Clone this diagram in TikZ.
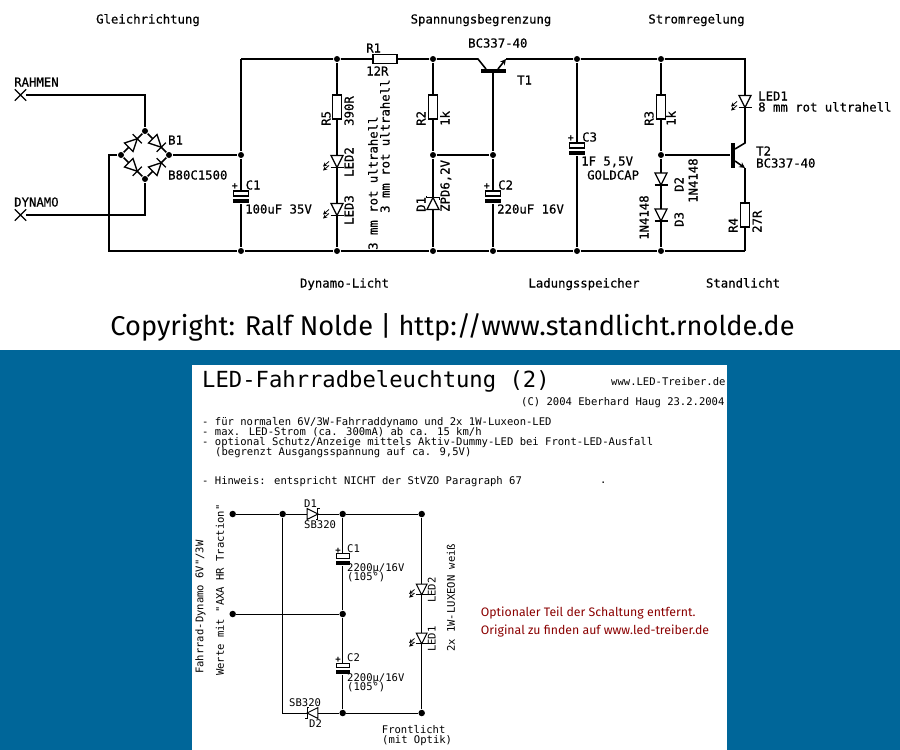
\documentclass[tikz,border=0pt]{standalone}
\usepackage{fontspec}
\usetikzlibrary{shapes.misc}
\newfontfamily\schemfont{DejaVu Sans Mono}
\newfontfamily\heavyfont[FakeBold=0.6]{DejaVu Sans Mono}
\newfontfamily\signfont{Fira Sans}
\definecolor{panelblue}{HTML}{006699}
\definecolor{notered}{HTML}{8B0000}
\tikzset{
	junc/.style={circle,fill=black,inner sep=0pt,minimum size=#1},
	junc/.default=6,
	xpin/.style={cross out,draw,inner sep=0pt,minimum size=10,line width=1.3pt},
	rbox/.style={draw,fill=white,inner sep=0pt,minimum width=9,minimum height=24,line width=1.3pt},
	rboxh/.style={rbox,minimum width=24,minimum height=9},
	capplate/.style={draw,fill=white,inner sep=0pt,minimum width=15,minimum height=5,line width=1.2pt},
	capbar/.style={fill=black,inner sep=0pt,minimum width=16,minimum height=4.5},
	tbar/.style={fill=black,inner sep=0pt,minimum width=25,minimum height=4},
	txt/.style={inner sep=0pt,anchor=west,text height=9pt,text depth=0pt,font=\heavyfont\fontsize{12.3}{12.3}\selectfont},
	vtxt/.style={txt,rotate=90},
	head/.style={txt,anchor=center,font=\heavyfont\fontsize{12.3}{12.3}\selectfont},
	small/.style={inner sep=0pt,anchor=west,text height=7.7pt,text depth=0pt,font=\schemfont\fontsize{10.55}{10.55}\selectfont},
	vsmall/.style={small,rotate=90},
	plus/.style={inner sep=0pt,anchor=center,font=\schemfont\bfseries\fontsize{#1}{#1}\selectfont},
	note/.style={inner sep=0pt,anchor=west,text height=8.3pt,text depth=0pt,text=notered,font=\signfont\fontsize{12.3}{12.3}\selectfont},
	diodesym/.pic={
		\draw[fill=white] (-6,-6) -- (6,-6) -- (0,6) -- cycle;
		\draw (-6.5,6) -- (6.5,6);
	},
	zenersym/.pic={
		\draw[fill=white] (-6,-6) -- (6,-6) -- (0,6) -- cycle;
		\draw (-6.5,4) -- (-6.5,6) -- (6.5,6) -- (6.5,8);
	},
	ledsym/.pic={
		\draw[fill=white] (-6,-6) -- (6,-6) -- (0,6) -- cycle;
		\draw (-6.5,6) -- (6.5,6);
		\draw[->,>=stealth,line width=.8pt] (-8,0) -- (-14,5);
		\draw[->,>=stealth,line width=.8pt] (-8,4) -- (-14,9);
	},
}

\begin{document}
\begin{tikzpicture}[x=1pt,y=-1pt]
	\useasboundingbox (0,0) rectangle (900,750);
	\fill[panelblue] (0,350) rectangle (900,750);
	\fill[white] (192,365) rectangle (727,750);

	% upper circuit
	\begin{scope}[line width=1.6pt]
		\foreach \n/\x/\y in {bt/145/131,br/169/155,bl/121/155,bb/145/179,
			a1/241/155,a2/241/251,b1/337/59,b2/337/251,c1/433/59,c2/433/155,c3/433/251,
			d2/493/155,d3/493/251,e1/577/59,e3/577/251,f1/661/59,f2/661/155,f3/661/251}
			\node[junc] (\n) at (\x,\y) {};
		\node[xpin] (rahmen) at (20.5,95) {};
		\node[xpin] (dynamo) at (20.5,215) {};
		\coordinate (topL) at (241,59);
		\coordinate (topR) at (745,59);
		\coordinate (botL) at (109,251);
		\coordinate (botR) at (745,251);
		\coordinate (t1c) at (478,59);
		\coordinate (t1cb) at (486,69);
		\coordinate (t1e) at (506,59);
		\coordinate (t1eb) at (498,69);
		\coordinate (t2c) at (745,143);
		\coordinate (t2cb) at (735,149);
		\coordinate (t2e) at (745,168);
		\coordinate (t2eb) at (735,161);

		\node[rboxh] (R1) at (385,59) {};
		\node[rbox] (R5) at (337,107) {};
		\node[rbox] (R2) at (433,107) {};
		\node[rbox] (R3) at (661,107) {};
		\node[rbox] (R4) at (745,215) {};
		\node[capplate] (C1p) at (241,193.5) {};
		\node[capbar] (C1b) at (241,201) {};
		\node[capplate] (C2p) at (493,193.5) {};
		\node[capbar] (C2b) at (493,201) {};
		\node[capplate] (C3p) at (577,145.5) {};
		\node[capbar] (C3b) at (577,153) {};
		\node[tbar] (T1b) at (493,70.5) {};
		\node[tbar,minimum width=4,minimum height=25] (T2b) at (733,155) {};

		\draw (rahmen) -| (bt);
		\draw (dynamo) -| (bb);
		\draw (bl) -| (botL) -- (a2) -- (b2) -- (c3) -- (d3) -- (e3) -- (f3) -- (botR);
		\draw (bt) -- (br) -- (bb) -- (bl) -- (bt);
		\draw (br) -- (a1);
		\draw (topL) -- (b1) -- (R1) -- (c1) -- (t1c) -- (t1cb);
		\draw[-stealth] (t1eb) -- (t1e);
		\draw (t1e) -- (e1) -- (f1) -- (topR) -- (t2c) -- (t2cb);
		\draw[-stealth] (t2eb) -- (t2e);
		\draw (t2e) -- (R4) -- (botR);
		\draw (topL) -- (a1) -- (C1p);
		\draw (C1b) -- (a2);
		\draw (b1) -- (R5) -- (b2);
		\draw (c1) -- (R2) -- (c2) -- (c3);
		\draw (c2) -- (d2);
		\draw (T1b) -- (d2) -- (C2p);
		\draw (C2b) -- (d3);
		\draw (e1) -- (C3p);
		\draw (C3b) -- (e3);
		\draw (f1) -- (R3) -- (f2) -- (f3);
		\draw (f2) -- (T2b);

		\begin{scope}[line width=1.3pt]
			\pic[rotate=135] at (133,143) {diodesym};
			\pic[rotate=45] at (157,143) {diodesym};
			\pic[rotate=45] at (133,167) {diodesym};
			\pic[rotate=135] at (157,167) {diodesym};
			\pic at (337,161.5) {ledsym};
			\pic at (337,209.5) {ledsym};
			\pic at (745,101.5) {ledsym};
			\pic[rotate=180] at (433,203.5) {zenersym};
			\pic at (661,179) {diodesym};
			\pic at (661,215) {diodesym};
		\end{scope}
	\end{scope}

	\node[head] (hGleich) at (148,19) {Gleichrichtung};
	\node[head] (hSpann) at (481,19) {Spannungsbegrenzung};
	\node[head] (hStrom) at (696.5,19) {Stromregelung};
	\node[head] (hDyn) at (344.5,283) {Dynamo-Licht};
	\node[head] (hLad) at (584,283) {Ladungsspeicher};
	\node[head] (hStand) at (743,283) {Standlicht};

	\node[txt] (tRahmen) at (14,82) {RAHMEN};
	\node[txt] (tDynamo) at (14,202) {DYNAMO};
	\node[txt] (tB1) at (168,140) {B1};
	\node[txt] (tBtype) at (168,175) {B80C1500};
	\node[txt] (tC1) at (245.5,185) {C1};
	\node[txt] (tC1v) at (245,209) {100uF 35V};
	\node[txt] (tR1) at (366,48) {R1};
	\node[txt] (tR1v) at (366,71) {12R};
	\node[vtxt] (tR5) at (326,126) {R5};
	\node[vtxt] (tR5v) at (349,126) {390R};
	\node[vtxt] (tL2) at (349,177) {LED2};
	\node[vtxt] (tL3) at (349,225) {LED3};
	\node[vtxt] (tL2d) at (373,250) {3 mm rot ultrahell};
	\node[vtxt] (tL3d) at (385,213) {3 mm rot ultrahell};
	\node[vtxt] (tR2) at (421,126) {R2};
	\node[vtxt] (tR2v) at (445,126) {1k};
	\node[vtxt] (tD1) at (421,212) {D1};
	\node[vtxt] (tD1v) at (445,212) {ZPD6,2V};
	\node[txt] (tT1t) at (468,43) {BC337-40};
	\node[txt] (tT1) at (517,80) {T1};
	\node[txt] (tC2) at (498,185) {C2};
	\node[txt] (tC2v) at (497,209) {220uF 16V};
	\node[txt] (tC3) at (582,137) {C3};
	\node[txt] (tC3v) at (581,161) {1F 5,5V};
	\node[txt] (tC3g) at (587,175) {GOLDCAP};
	\node[vtxt] (tR3) at (649,126) {R3};
	\node[vtxt] (tR3v) at (671,126) {1k};
	\node[vtxt] (tD2) at (679,192) {D2};
	\node[vtxt] (tD2v) at (693,203) {1N4148};
	\node[vtxt] (tD3) at (679,227) {D3};
	\node[vtxt] (tD3v) at (644,240) {1N4148};
	\node[vtxt] (tR4) at (733,233) {R4};
	\node[vtxt] (tR4v) at (757,233) {27R};
	\node[txt] (tL1) at (758,96) {LED1};
	\node[txt] (tL1d) at (758,107) {8 mm rot ultrahell};
	\node[txt] (tT2) at (756,151) {T2};
	\node[txt] (tT2t) at (756,163) {BC337-40};
	\node[plus=10] (pC1) at (235,187) {+};
	\node[plus=10] (pC2) at (487,187) {+};
	\node[plus=10] (pC3) at (571,139) {+};

	\node[anchor=center,inner sep=0pt,text height=19pt,text depth=0pt,font=\signfont\fontsize{27.2}{27.2}\selectfont] (sign) at (452.5,326) {Copyright: Ralf Nolde | http://www.standlicht.rnolde.de};

	% lower panel
	\node[small,text height=16pt,font=\schemfont\fontsize{22.2}{22.2}\selectfont] (title) at (202,379) {LED-Fahrradbeleuchtung (2)};
	\node[small] (web) at (611,381.5) {www.LED-Treiber.de};
	\node[small] (copy) at (521,401.5) {(C) 2004 Eberhard Haug 23.2.2004};
	\node[small] (line1) at (202,421.5) {- für normalen 6V/3W-Fahrraddynamo und 2x 1W-Luxeon-LED};
	\node[small] (line2) at (202,431.5) {- max. LED-Strom (ca. 300mA) ab ca. 15 km/h};
	\node[small] (line3) at (202,441.5) {- optional Schutz/Anzeige mittels Aktiv-Dummy-LED bei Front-LED-Ausfall};
	\node[small] (line4) at (215,451.5) {(begrenzt Ausgangsspannung auf ca. 9,5V)};
	\node[small] (line5) at (202,481) {- Hinweis: entspricht NICHT der StVZO Paragraph 67};
	\node[small] (dot) at (600,480) {.};

	\begin{scope}[line width=1pt]
		\foreach \n/\x/\y in {p1/232.7/514,p2/282.7/514,p3/342.7/514,p4/421.7/514,
			q1/232.7/614,q3/342.7/614,s3/342.7/713,s4/421.7/713}
			\node[junc=6.5] (\n) at (\x,\y) {};
		\coordinate (s2) at (282.7,713);
		\node[capplate,minimum width=13,minimum height=4.5,line width=.9pt] (D1p) at (342.7,556) {};
		\node[capbar,minimum width=14] (D1b) at (342.7,563) {};
		\node[capplate,minimum width=13,minimum height=4.5,line width=.9pt] (D2p) at (342.7,665.5) {};
		\node[capbar,minimum width=14] (D2b) at (342.7,672) {};

		\draw (p1) -- (p2) -- (p3) -- (p4) -- (s4);
		\draw (p2) -- (s2) -- (s3) -- (s4);
		\draw (q1) -- (q3);
		\draw (p3) -- (D1p);
		\draw (D1b) -- (q3) -- (D2p);
		\draw (D2b) -- (s3);

		\pic[rotate=90,scale=.9] at (312.5,514) {zenersym};
		\pic[rotate=-90,scale=.9] at (312.5,713) {zenersym};
		\pic[scale=.9] at (421.7,589.5) {ledsym};
		\pic[scale=.9] at (421.7,638.5) {ledsym};
	\end{scope}

	\node[small] (nD1) at (304,504) {D1};
	\node[small] (nD1v) at (304,525) {SB320};
	\node[small] (nD2v) at (289,703) {SB320};
	\node[small] (nD2) at (309,724) {D2};
	\node[small] (nC1) at (347,549) {C1};
	\node[small] (nC1v) at (347,568) {2200µ/16V};
	\node[small] (nC1t) at (347,577) {(105°)};
	\node[small] (nC2) at (347,658) {C2};
	\node[small] (nC2v) at (347,678) {2200µ/16V};
	\node[small] (nC2t) at (347,687) {(105°)};
	\node[plus=9] (qC1) at (338,551) {+};
	\node[plus=9] (qC2) at (338,660) {+};
	\node[vsmall] (nL2) at (431.7,603) {LED2};
	\node[vsmall] (nL1) at (431.7,652) {LED1};
	\node[vsmall] (nLux) at (451,652) {2x 1W-LUXEON weiß};
	\node[vsmall] (nFahr) at (199.5,674) {Fahrrad-Dynamo 6V"/3W};
	\node[vsmall] (nWerte) at (220,676) {Werte mit "AXA HR Traction"};
	\node[small] (nFront) at (381.7,730) {Frontlicht};
	\node[small] (nOpt) at (382,740) {(mit Optik)};

	\node[note] (red1) at (480.7,612) {Optionaler Teil der Schaltung entfernt.};
	\node[note] (red2) at (480.7,630) {Original zu finden auf www.led-treiber.de};
\end{tikzpicture}
\end{document}
